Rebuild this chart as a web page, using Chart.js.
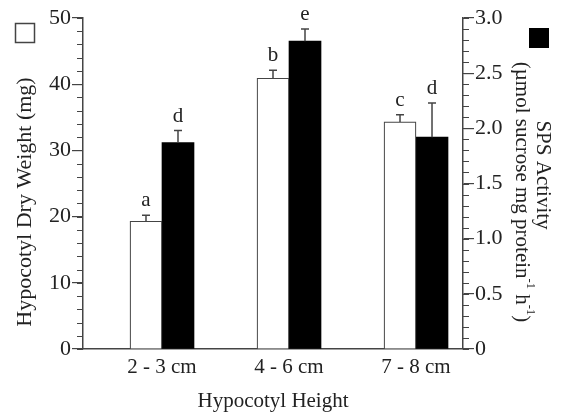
<!DOCTYPE html>
<html>
<head>
<meta charset="utf-8">
<script src="https://cdn.jsdelivr.net/npm/chart.js@4.4.1/dist/chart.umd.min.js"></script>
<style>
  html, body { margin: 0; padding: 0; background: #fff; }
  #wrap { width: 561px; height: 414px; }
</style>
</head>
<body>
<div id="wrap"><canvas id="myChart"></canvas></div>
<script>
const categories = ["2 - 3 cm", "4 - 6 cm", "7 - 8 cm"];
const dryWeight = [19.3, 40.9, 34.3];      // mg, left axis
const dryWeightErr = [0.9, 1.2, 1.1];
const spsActivity = [1.87, 2.79, 1.92];    // right axis
const spsErr = [0.11, 0.11, 0.31];
const weightLetters = ["a", "b", "c"];
const spsLetters = ["d", "e", "d"];

const FONT = "'Liberation Serif', 'Times New Roman', serif";
const INK = "#222";
const LINE = "#444";

const ctx = document.getElementById("myChart");

// little helper for rotated text with optional superscripts
function drawRotated(c, parts, x, y, angle, size) {
  c.save();
  c.translate(x, y);
  c.rotate(angle);
  c.fillStyle = INK;
  c.textBaseline = "middle";
  c.textAlign = "left";
  let total = 0;
  parts.forEach((p) => {
    c.font = (p.sup ? size * 0.6 : size) + "px " + FONT;
    p.w = c.measureText(p.t).width;
    total += p.w;
  });
  let cx = -total / 2;
  parts.forEach((p) => {
    c.font = (p.sup ? size * 0.6 : size) + "px " + FONT;
    c.fillText(p.t, cx, p.sup ? -size * 0.38 : 0);
    cx += p.w;
  });
  c.restore();
}

const extras = {
  id: "extras",
  afterDatasetsDraw(chart) {
    const c = chart.ctx;
    const errs = [dryWeightErr, spsErr];
    const letters = [weightLetters, spsLetters];
    chart.data.datasets.forEach((ds, di) => {
      const meta = chart.getDatasetMeta(di);
      const ys = chart.scales[ds.yAxisID];
      meta.data.forEach((bar, i) => {
        const top = ys.getPixelForValue(ds.data[i].y + errs[di][i]);
        c.save();
        c.strokeStyle = LINE;
        c.lineWidth = 1.5;
        c.beginPath();
        c.moveTo(bar.x, bar.y);
        c.lineTo(bar.x, top);
        c.moveTo(bar.x - 4, top);
        c.lineTo(bar.x + 4, top);
        c.stroke();
        c.fillStyle = INK;
        c.font = "21px " + FONT;
        c.textAlign = "center";
        c.textBaseline = "alphabetic";
        c.fillText(letters[di][i], bar.x, top - 9);
        c.restore();
      });
    });
  },
  afterDraw(chart) {
    const c = chart.ctx;
    // minor ticks
    [["y", 2, -1], ["y1", 0.1, 1]].forEach(([id, step, dir]) => {
      const s = chart.scales[id];
      const x0 = dir < 0 ? s.right : s.left;
      const n = Math.round((s.max - s.min) / step);
      c.save();
      c.strokeStyle = LINE;
      c.lineWidth = 1.2;
      c.beginPath();
      for (let k = 0; k <= n; k++) {
        const py = Math.round(s.getPixelForValue(s.min + k * step)) + 0.5;
        c.moveTo(x0, py);
        c.lineTo(x0 + dir * 6, py);
      }
      c.stroke();
      c.restore();
    });
    // legend squares
    c.save();
    c.strokeStyle = LINE;
    c.lineWidth = 1.5;
    c.strokeRect(15.5, 23.5, 19, 19);
    c.fillStyle = "#000";
    c.fillRect(529, 28, 20, 20);
    c.restore();
    // axis titles
    drawRotated(c, [{ t: "Hypocotyl Dry Weight (mg)" }], 25, 202, -Math.PI / 2, 22);
    drawRotated(c, [{ t: "SPS Activity" }], 543, 175, Math.PI / 2, 21);
    drawRotated(c, [
      { t: "(µmol sucrose mg protein" }, { t: "-1", sup: true },
      { t: " h" }, { t: "-1", sup: true }, { t: ")" }
    ], 522, 192, Math.PI / 2, 21);
    const xs = chart.scales.x;
    drawRotated(c, [{ t: "Hypocotyl Height" }], (xs.left + xs.right) / 2, 401, 0, 21);
  }
};

new Chart(ctx, {
  type: "bar",
  data: {
    datasets: [
      {
        label: "Hypocotyl Dry Weight",
        data: dryWeight.map((v, i) => ({ x: i + 1, y: v })),
        yAxisID: "y",
        backgroundColor: "#fff",
        borderColor: LINE,
        borderWidth: 1.2,
        borderSkipped: "bottom",
        barThickness: 32,
      },
      {
        label: "SPS Activity",
        data: spsActivity.map((v, i) => ({ x: i + 1, y: v })),
        yAxisID: "y1",
        backgroundColor: "#000",
        borderWidth: 0,
        barThickness: 32,
      },
    ],
  },
  plugins: [extras],
  options: {
    responsive: true,
    maintainAspectRatio: false,
    animation: false,
    layout: { padding: { top: 18, left: 0, right: 0, bottom: 0 } },
    plugins: { legend: { display: false }, tooltip: { enabled: false } },
    scales: {
      x: {
        type: "linear",
        min: 0.378,
        max: 3.37,
        offset: false,
        afterFit: (s) => { s.height = 65; },
        afterBuildTicks: (s) => { s.ticks = categories.map((c, i) => ({ value: i + 1 })); },
        grid: { display: true, offset: false, drawOnChartArea: false, drawTicks: false },
        border: { color: LINE, width: 1.5 },
        ticks: {
          padding: 6,
          color: INK,
          font: { family: FONT, size: 21 },
          callback: (v) => categories[v - 1] || "",
        },
      },
      y: {
        position: "left",
        min: 0,
        max: 50,
        afterFit: (s) => { s.width = 83; },
        grid: { drawOnChartArea: false, tickLength: 11, color: LINE, lineWidth: 1.2 },
        border: { color: LINE, width: 1.5 },
        ticks: { stepSize: 10, padding: 1, color: INK, font: { family: FONT, size: 22 } },
      },
      y1: {
        position: "right",
        min: 0,
        max: 3,
        afterFit: (s) => { s.width = 98; },
        grid: { drawOnChartArea: false, tickLength: 11, color: LINE, lineWidth: 1.2 },
        border: { color: LINE, width: 1.5 },
        ticks: {
          stepSize: 0.5,
          padding: 1,
          color: INK,
          font: { family: FONT, size: 22 },
          callback: (v) => (v === 0 ? "0" : v.toFixed(1)),
        },
      },
    },
  },
});
</script>
</body>
</html>
